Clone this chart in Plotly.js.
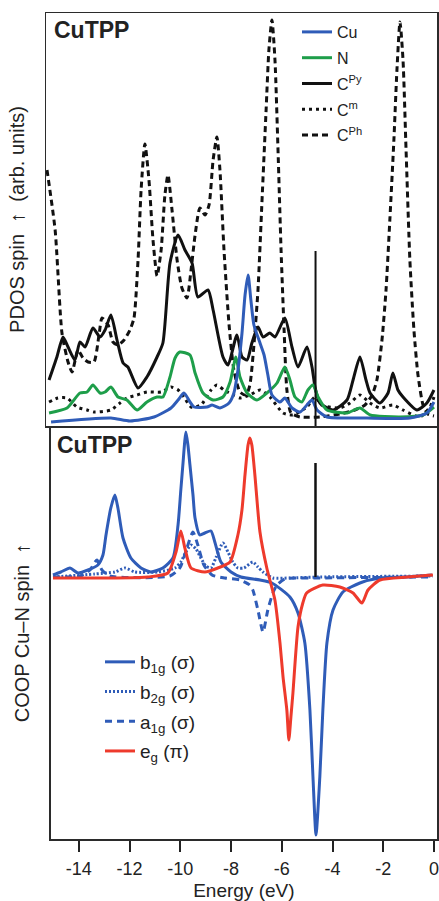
<!DOCTYPE html>
<html>
<head>
<meta charset="utf-8">
<script src="https://cdn.plot.ly/plotly-3.0.1.min.js"></script>
<style>html,body{margin:0;padding:0;background:#fff;}#chart{width:439px;height:901px;}</style>
</head>
<body>
<div id="chart"></div>
<script>
// ---------- PDOS (upper panel), energy in eV, intensity in arb. units ----------
var cuE  = [-15.10,-12.74,-11.99,-11.04,-10.37,-10.09,-9.86,-9.62,-9.46,-8.95,-8.75,-8.44,-8.08,-7.89,-7.73,-7.57,-7.45,-7.33,-7.22,-7.10,-6.86,-6.70,-6.55,-6.39,-6.07,-5.88,-5.60,-5.28,-5.01,-4.81,-4.61,-4.22,-2.64,-0.95,-0.28,0];
var cuH  = [0,4,1,5,14,22,29,20,15,15,17,14,19,29,52,89,127,147,122,97,79,67,47,27,20,24,14,10,17,22,12,5,4,4,9,20];

var nE   = [-15.18,-14.47,-13.96,-13.68,-13.45,-13.17,-12.97,-12.74,-12.46,-12.11,-11.71,-11.32,-10.92,-10.69,-10.41,-10.21,-10.02,-9.62,-9.42,-9.11,-8.71,-8.32,-8.04,-7.81,-7.65,-7.37,-6.98,-6.59,-6.19,-5.88,-5.68,-5.48,-5.21,-4.97,-4.77,-4.57,-4.22,-3.43,-2.92,-2.52,-1.34,-0.43,0];
var nH   = [9,14,29,30,37,29,30,35,25,22,12,20,25,25,45,64,70,67,49,29,22,25,40,65,45,29,22,29,39,55,42,25,20,32,37,25,12,9,14,7,5,7,15];

var cpyE = [-15.18,-14.87,-14.63,-14.43,-14.16,-13.96,-13.76,-13.45,-13.17,-12.97,-12.74,-12.50,-12.26,-12.07,-11.67,-11.32,-10.92,-10.69,-10.41,-10.09,-9.82,-9.54,-9.31,-8.91,-8.71,-8.32,-8.12,-7.77,-7.57,-7.37,-7.18,-6.94,-6.74,-6.47,-6.27,-5.88,-5.60,-5.36,-5.01,-4.81,-4.69,-4.50,-3.98,-3.43,-3.19,-2.92,-2.68,-2.52,-2.13,-1.81,-1.62,-1.42,-1.22,-0.67,-0.28,0];
var cpyH = [42,65,85,75,62,80,75,94,85,92,107,82,59,55,34,45,65,79,159,187,172,159,125,132,112,65,57,87,65,62,79,95,85,89,85,104,75,55,75,55,35,19,12,22,42,65,42,29,19,29,49,32,25,12,19,32];

var cmE  = [-15.18,-14.83,-14.47,-14.08,-13.68,-13.41,-12.74,-12.38,-12.11,-11.71,-11.32,-10.76,-10.37,-10.09,-9.86,-9.58,-9.19,-8.79,-8.56,-8.28,-7.93,-7.65,-7.26,-6.86,-6.47,-5.95,-5.56,-5.01,-4.69,-4.42,-3.71,-3.31,-2.92,-2.52,-2.13,-1.62,-1.22,-0.55,-0.16,0];
var cmH  = [20,24,24,15,12,10,12,19,24,27,30,30,35,32,25,15,17,32,37,32,27,24,27,32,25,9,7,15,25,17,14,19,27,19,14,17,12,5,15,25];

var cphE = [-15.26,-14.94,-14.67,-14.43,-14.27,-14.04,-13.84,-13.64,-13.41,-13.21,-13.09,-12.85,-12.66,-12.46,-12.22,-11.99,-11.83,-11.67,-11.55,-11.40,-11.24,-11.08,-10.92,-10.76,-10.61,-10.49,-10.33,-10.13,-9.94,-9.74,-9.58,-9.42,-9.23,-9.03,-8.87,-8.71,-8.56,-8.44,-8.28,-8.08,-7.89,-7.65,-7.41,-7.26,-7.10,-6.94,-6.78,-6.62,-6.51,-6.39,-6.27,-6.15,-6.03,-5.91,-5.80,-5.64,-5.28,-4.50,-3.71,-3.12,-2.72,-2.44,-2.25,-2.05,-1.89,-1.74,-1.58,-1.46,-1.34,-1.22,-1.10,-0.95,-0.79,-0.63,-0.43,-0.24,0];
var cphH = [252,192,89,60,50,72,64,60,60,87,104,97,80,77,82,92,104,162,232,278,242,182,146,172,227,247,212,162,134,124,152,187,214,207,217,262,285,252,172,97,52,30,27,37,77,132,222,312,372,402,362,272,172,92,32,9,5,5,8,12,17,27,42,82,132,202,282,352,400,362,272,162,92,47,17,8,6];

// ---------- COOP Cu–N (lower panel) ----------
var b1gE = [-15.02,-14.71,-14.35,-14.04,-13.64,-13.25,-13.05,-12.93,-12.74,-12.58,-12.46,-12.26,-11.95,-11.55,-11.16,-10.69,-10.29,-10.09,-9.98,-9.90,-9.78,-9.70,-9.62,-9.50,-9.42,-9.23,-9.03,-8.79,-8.64,-8.40,-8.00,-7.61,-6.86,-6.39,-5.68,-5.36,-5.09,-4.89,-4.77,-4.65,-4.50,-4.38,-4.22,-3.98,-3.59,-2.92,-2.13,-1.06,-0.08];
var b1gV = [2,5,9,4,7,12,22,42,69,82,69,39,19,9,5,9,19,52,87,112,145,132,112,82,59,42,44,46,35,15,5,0,-3,-6,-20,-36,-66,-133,-200,-258,-200,-133,-66,-33,-15,-6,-1,0,2];

var b2gE = [-15.02,-13.37,-12.58,-12.18,-11.79,-10.88,-10.21,-9.98,-9.78,-9.58,-9.38,-9.19,-8.99,-8.79,-8.60,-8.32,-8.12,-7.93,-7.73,-7.49,-7.14,-6.94,-6.74,-6.35,-5.68,-4.50,-0.04];
var b2gV = [0,3,5,9,5,5,9,15,25,32,28,19,11,9,19,34,25,15,9,9,15,10,5,-1,-1,0,1];

var a1gE = [-15.02,-13.96,-13.56,-13.29,-13.09,-12.78,-10.41,-10.02,-9.74,-9.50,-9.31,-9.07,-8.75,-8.24,-7.65,-7.26,-7.14,-6.94,-6.74,-6.55,-6.35,-6.19,-5.88,-4.50,-0.04];
var a1gV = [0,1,7,17,7,1,1,9,29,45,32,12,2,-1,-3,-8,-13,-33,-55,-33,-16,-8,-2,-1,0];

var egE  = [-15.02,-11.28,-10.49,-10.17,-9.98,-9.82,-9.58,-9.03,-8.52,-8.04,-7.73,-7.57,-7.45,-7.33,-7.26,-7.18,-7.06,-6.86,-6.59,-6.47,-6.27,-6.07,-5.95,-5.80,-5.72,-5.64,-5.56,-5.36,-5.17,-5.02,-4.38,-3.71,-3.19,-2.84,-2.60,-2.13,-1.06,-0.04];
var egV  = [-1,0,4,25,46,29,9,5,9,15,42,67,102,132,139,132,102,45,9,-3,-23,-66,-100,-133,-163,-140,-116,-50,-26,-16,-8,-10,-16,-26,-13,-3,0,2];

// Fermi level marker
var fermiE = -4.67;
var fermiTopSpan = [-4, 171];
var fermiBottomSpan = [0, 114];

// axis ticks
var tickVals = [-14,-12,-10,-8,-6,-4,-2,0];
var tickLabels = ['-14','-12','-10','-8','-6','-4','-2','0'];

var FONT = 'Liberation Sans, Arial, Helvetica, sans-serif';
var BLUE = '#2f5cb8', GREEN = '#1e9e4a', RED = '#ee3a2c', BLACK = '#111111';

function pdosTrace(name, x, y, color, dash, rank) {
  return {x:x, y:y, name:name, xaxis:'x2', yaxis:'y2', type:'scatter', mode:'lines',
    line:{color:color, width:3, dash:dash, shape:'spline', smoothing:0.6},
    legend:'legend', legendrank:rank, legendgroup:'t'+rank, hoverinfo:'skip'};
}
function coopTrace(name, x, y, color, dash, rank) {
  return {x:x, y:y, name:name, xaxis:'x', yaxis:'y', type:'scatter', mode:'lines',
    line:{color:color, width:3, dash:dash, shape:'spline', smoothing:0.6},
    legend:'legend2', legendrank:rank, legendgroup:'b'+rank, hoverinfo:'skip'};
}

var traces = [
  pdosTrace('C<sup>Ph</sup>', cphE, cphH, BLACK, '6px,4px', 5),
  pdosTrace('C<sup>m</sup>', cmE, cmH, BLACK, '3px,4px', 4),
  pdosTrace('C<sup>Py</sup>', cpyE, cpyH, BLACK, 'solid', 3),
  pdosTrace('N', nE, nH, GREEN, 'solid', 2),
  pdosTrace('Cu', cuE, cuH, BLUE, 'solid', 1),
  {x:[fermiE, fermiE], y:fermiTopSpan, xaxis:'x2', yaxis:'y2', mode:'lines', line:{color:BLACK, width:2}, showlegend:false, hoverinfo:'skip'},
  coopTrace('b<sub>2g</sub> (σ)', b2gE, b2gV, BLUE, '2px,2px', 2),
  coopTrace('a<sub>1g</sub> (σ)', a1gE, a1gV, BLUE, '7px,5px', 3),
  coopTrace('b<sub>1g</sub> (σ)', b1gE, b1gV, BLUE, 'solid', 1),
  coopTrace('e<sub>g</sub> (π)', egE, egV, RED, 'solid', 4),
  {x:[fermiE, fermiE], y:fermiBottomSpan, xaxis:'x', yaxis:'y', mode:'lines', line:{color:BLACK, width:2.5}, showlegend:false, hoverinfo:'skip'}
];

var W = 439, H = 901;
var frame = {showline:true, mirror:true, linecolor:'#2b2b2b', linewidth:1.5, showgrid:false, zeroline:false};

var layout = {
  width:W, height:H,
  margin:{l:0, r:0, t:0, b:0},
  paper_bgcolor:'#ffffff', plot_bgcolor:'#ffffff',
  font:{family:FONT, color:'#222222'},
  showlegend:true,
  xaxis: Object.assign({}, frame, {
    domain:[50.7/W, 437/W], range:[-15.11, 0.12], anchor:'y',
    tickmode:'array', tickvals:tickVals, ticktext:tickLabels,
    ticks:'outside', ticklen:11, tickwidth:2, tickcolor:'#222',
    ticklabelstandoff:2,
    tickfont:{family:FONT, size:18, color:'#222'},
    title:{text:'Energy (eV)', font:{family:FONT, size:19, color:'#222'}, standoff:14}
  }),
  yaxis: Object.assign({}, frame, {
    domain:[1-839/H, 1-427/H], range:[-262, 150], anchor:'x',
    showticklabels:false, ticks:'',
    title:{text:'COOP Cu–N spin\u00a0 ↑', font:{family:FONT, size:20, color:'#222'}, standoff:14}
  }),
  xaxis2: Object.assign({}, frame, {
    domain:[46/W, 437/W], range:[-15.30, 0.12], anchor:'y2',
    showticklabels:false, ticks:''
  }),
  yaxis2: Object.assign({}, frame, {
    domain:[1-426/H, 1-13/H], range:[-4, 409], anchor:'x2',
    showticklabels:false, ticks:'',
    title:{text:'PDOS spin\u00a0 ↑\u00a0 (arb. units)', font:{family:FONT, size:20, color:'#222'}, standoff:14}
  }),
  legend:{x:297/W, y:1-15/H, xanchor:'left', yanchor:'top', bgcolor:'rgba(0,0,0,0)',
    font:{family:FONT, size:16, color:'#222'}, tracegroupgap:2, itemwidth:30},
  legend2:{x:100/W, y:1-643/H, xanchor:'left', yanchor:'top', bgcolor:'rgba(0,0,0,0)',
    font:{family:FONT, size:19, color:'#222'}, tracegroupgap:2, itemwidth:30},
  annotations:[
    {text:'CuTPP', xref:'paper', yref:'paper', x:52/W, y:1-15/H, xanchor:'left', yanchor:'top',
     showarrow:false, font:{family:FONT, size:23, weight:700, color:'#222'}},
    {text:'CuTPP', xref:'paper', yref:'paper', x:55/W, y:1-430/H, xanchor:'left', yanchor:'top',
     showarrow:false, font:{family:FONT, size:23, weight:700, color:'#222'}}
  ]
};

Plotly.newPlot('chart', traces, layout, {displayModeBar:false, staticPlot:true});
</script>
</body>
</html>
